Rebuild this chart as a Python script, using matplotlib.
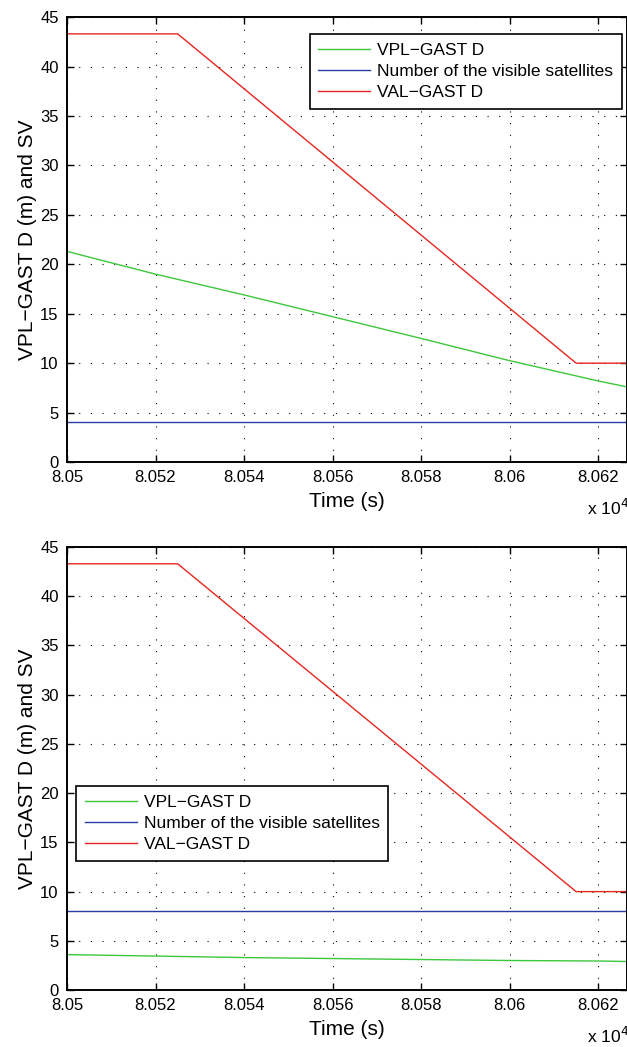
import matplotlib
matplotlib.use('Agg')
import matplotlib.pyplot as plt
import numpy as np

plt.rcParams['font.family'] = ['Liberation Sans', 'DejaVu Sans']

# time axis (x 10^4 s)
t_val = [8.05, 8.0525, 8.0615, 8.06265]
val_gast = [43.3, 43.3, 10.0, 10.0]

t_vpl = [8.05, 8.052, 8.054, 8.056, 8.058, 8.06, 8.062, 8.06265]
vpl_top = [21.3, 19.0, 16.9, 14.7, 12.5, 10.25, 8.2, 7.6]
vpl_bot = [3.6, 3.45, 3.3, 3.2, 3.1, 3.0, 2.95, 2.9]

t_sv = [8.05, 8.06265]
sv_top = [4, 4]
sv_bot = [8, 8]

labels = ['VPL\u2212GAST D', 'Number of the visible satellites', 'VAL\u2212GAST D']
xticks = [8.05, 8.052, 8.054, 8.056, 8.058, 8.06, 8.062]
xtick_labels = ['8.05', '8.052', '8.054', '8.056', '8.058', '8.06', '8.062']
yticks = list(range(0, 50, 5))

c_green = '#3cc83c'
c_blue = '#2b3ca8'
c_red = '#e6261f'

fig = plt.figure(figsize=(6.27, 10.47), dpi=100)
ax1 = fig.add_axes([0.1069, 0.5587, 0.8931, 0.4250])
ax2 = fig.add_axes([0.1069, 0.0544, 0.8931, 0.4231])


def draw(ax, vpl, sv, legend_kw):
    ax.plot(t_vpl, vpl, color=c_green, lw=1.0, label=labels[0])
    ax.plot(t_sv, sv, color=c_blue, lw=1.0, label=labels[1])
    ax.plot(t_val, val_gast, color=c_red, lw=1.0, label=labels[2])
    ax.set_xlim(8.05, 8.06265)
    ax.set_ylim(0, 45)
    ax.set_xticks(xticks)
    ax.set_xticklabels(xtick_labels)
    ax.set_yticks(yticks)
    ax.grid(True, color='black', linestyle=(0, (1, 9.5)), linewidth=0.8)
    ax.tick_params(direction='in', top=True, right=True, length=5,
                   width=1.0, labelsize=12, pad=6)
    for s in ax.spines.values():
        s.set_linewidth(1.4)
    ax.set_xlabel('Time (s)', fontsize=15, labelpad=5)
    ax.set_ylabel('VPL\u2212GAST D (m) and SV', fontsize=15, labelpad=2)
    # multiplier label of the x axis
    ax.text(0.928, -0.103, 'x 10$^4$', transform=ax.transAxes, fontsize=12.5,
            ha='left', va='center', clip_on=False)
    leg = ax.legend(fancybox=False, edgecolor='black', framealpha=1,
                    fontsize=12.5, handlelength=3.0, borderpad=0.5,
                    labelspacing=0.35, handletextpad=0.4, borderaxespad=0,
                    **legend_kw)
    leg.get_frame().set_linewidth(1.2)


draw(ax1, vpl_top, sv_top,
     dict(loc='upper right', bbox_to_anchor=(0.991, 0.962)))
draw(ax2, vpl_bot, sv_bot,
     dict(loc='upper left', bbox_to_anchor=(0.016, 0.4605)))

fig.savefig('out.png', dpi=100)
